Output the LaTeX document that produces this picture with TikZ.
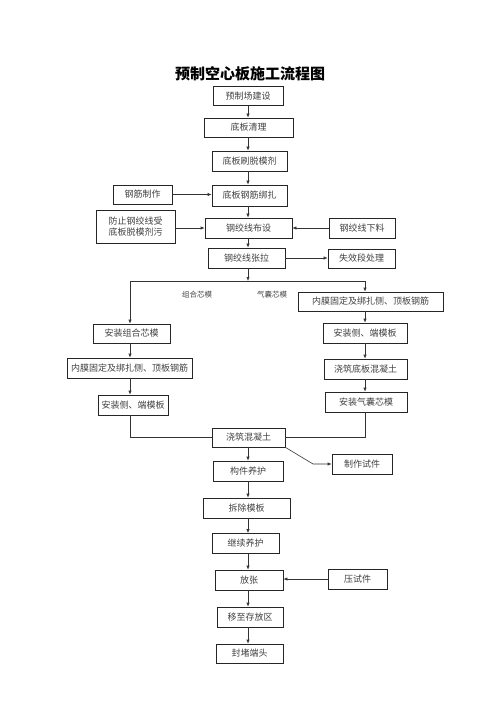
\documentclass[tikz,border=0pt]{standalone}
\usepackage{fontspec}
\setmainfont{Noto Sans CJK SC}
\usetikzlibrary{arrows.meta}
\begin{document}
\begin{tikzpicture}[x=1pt,y=-1pt,
  bx/.style={draw=black!85,line width=0.6pt,inner sep=0pt,text=black!75,font=\fontsize{9}{11}\selectfont,align=center},
  arr/.style={draw=black!80,line width=0.6pt,-{Latex[length=4pt,width=3.2pt]}},
  ln/.style={draw=black!80,line width=0.6pt},
  lbl/.style={inner sep=0pt,text=black!75,font=\fontsize{7.5}{9}\selectfont}]
\useasboundingbox (0,0) rectangle (500,708);
\node[inner sep=0pt,font=\fontsize{15}{17}\selectfont\bfseries] (title) at (250,74) {预制空心板施工流程图};
\node[bx,minimum width=70pt,minimum height=19pt] (t1) at (248,96) {预制场建设};
\node[bx,minimum width=89pt,minimum height=19pt] (t2) at (248.5,127.5) {底板清理};
\node[bx,minimum width=75pt,minimum height=20pt] (t3) at (249.5,161) {底板刷脱模剂};
\node[bx,minimum width=75pt,minimum height=21pt] (t4) at (249.5,195.5) {底板钢筋绑扎};
\node[bx,minimum width=59pt,minimum height=19pt] (s1) at (142.5,194.5) {钢筋制作};
\node[bx,minimum width=87pt,minimum height=20pt] (t5) at (248.5,228) {钢绞线布设};
\node[bx,minimum width=79pt,minimum height=33pt] (s2) at (135.5,226.5) {防止钢绞线受\\底板脱模剂污};
\node[bx,minimum width=66pt,minimum height=20pt] (s3) at (362,228) {钢绞线下料};
\node[bx,minimum width=77pt,minimum height=20pt] (t6) at (246.5,258) {钢绞线张拉};
\node[bx,minimum width=67pt,minimum height=19pt] (s4) at (361.5,258.5) {失效段处理};
\node[lbl] (lab1) at (197,295) {组合芯模};
\node[lbl] (lab2) at (272,295) {气囊芯模};
\node[bx,minimum width=77pt,minimum height=19pt] (l1) at (131.5,333.5) {安装组合芯模};
\node[bx,minimum width=125pt,minimum height=20pt] (l2) at (129.5,368) {内膜固定及绑扎侧、顶板钢筋};
\node[bx,minimum width=70pt,minimum height=20pt] (l3) at (133,405) {安装侧、端模板};
\node[bx,minimum width=145pt,minimum height=19pt] (r1) at (370.5,301.5) {内膜固定及绑扎侧、顶板钢筋};
\node[bx,minimum width=84pt,minimum height=20pt] (r2) at (365,333) {安装侧、端模板};
\node[bx,minimum width=83pt,minimum height=20pt] (r3) at (365.5,369) {浇筑底板混凝土};
\node[bx,minimum width=82pt,minimum height=20pt] (r4) at (366,402) {安装气囊芯模};
\node[bx,minimum width=73pt,minimum height=19pt] (b1) at (248.5,437.5) {浇筑混凝土};
\node[bx,minimum width=70pt,minimum height=20pt] (b2) at (248,471) {构件养护};
\node[bx,minimum width=60pt,minimum height=20pt] (s5) at (362,464) {制作试件};
\node[bx,minimum width=87pt,minimum height=20pt] (b3) at (246.5,508) {拆除模板};
\node[bx,minimum width=67pt,minimum height=20pt] (b4) at (245.5,543.5) {继续养护};
\node[bx,minimum width=68pt,minimum height=20pt] (b5) at (249,580) {放张};
\node[bx,minimum width=59pt,minimum height=20pt] (s6) at (357.5,579) {压试件};
\node[bx,minimum width=66pt,minimum height=20pt] (b6) at (250,617) {移至存放区};
\node[bx,minimum width=67pt,minimum height=19pt] (b7) at (249.5,653.5) {封堵端头};
\coordinate (mx) at (248,0);
\coordinate (lx) at (130,0);
\coordinate (rx) at (365,0);
\coordinate (sp) at (248,281);
\coordinate (spl) at (130,281);
\coordinate (spr) at (365,281);
\coordinate (jl) at (130,437);
\coordinate (jr) at (365,437);
\coordinate (kk) at (313,464);
% main chain
\draw[arr] (t1.south -| mx) -- (t2.north -| mx);
\draw[arr] (t2.south -| mx) -- (t3.north -| mx);
\draw[arr] (t3.south -| mx) -- (t4.north -| mx);
\draw[arr] (t4.south -| mx) -- (t5.north -| mx);
\draw[arr] (t5.south -| mx) -- (t6.north -| mx);
\draw[arr] (t6.south -| mx) -- (sp);
\draw[arr] (s1.east) -- (s1.east -| t4.west);
\draw[arr] (s2.east |- t5) -- (t5.west);
\draw[arr] (s3.west) -- (t5.east);
\draw[arr] (t6.east) -- (t6.east -| s4.west);
% split
\draw[ln] (spl) -- (spr);
\draw[arr] (spl) -- (l1.north -| lx);
\draw[arr] (spr) -- (r1.north -| rx);
\draw[arr] (l1.south -| lx) -- (l2.north -| lx);
\draw[arr] (l2.south -| lx) -- (l3.north -| lx);
\draw[arr] (r1.south -| rx) -- (r2.north -| rx);
\draw[arr] (r2.south -| rx) -- (r3.north -| rx);
\draw[arr] (r3.south -| rx) -- (r4.north -| rx);
\draw[ln] (l3.south -| lx) -- (jl) -- (jl -| b1.west);
\draw[ln] (r4.south -| rx) -- (jr) -- (jr -| b1.east);
% lower chain
\draw[arr] (b1.south -| mx) -- (b2.north -| mx);
\draw[arr] (b1.south east) -- (kk) -- (s5.west);
\draw[arr] (b2.south -| mx) -- (b3.north -| mx);
\draw[arr] (b3.south -| mx) -- (b4.north -| mx);
\draw[arr] (b4.south -| mx) -- (b5.north -| mx);
\draw[arr] (s6.west) -- (s6.west -| b5.east);
\draw[arr] (b5.south -| mx) -- (b6.north -| mx);
\draw[arr] (b6.south -| mx) -- (b7.north -| mx);
\end{tikzpicture}
\end{document}
